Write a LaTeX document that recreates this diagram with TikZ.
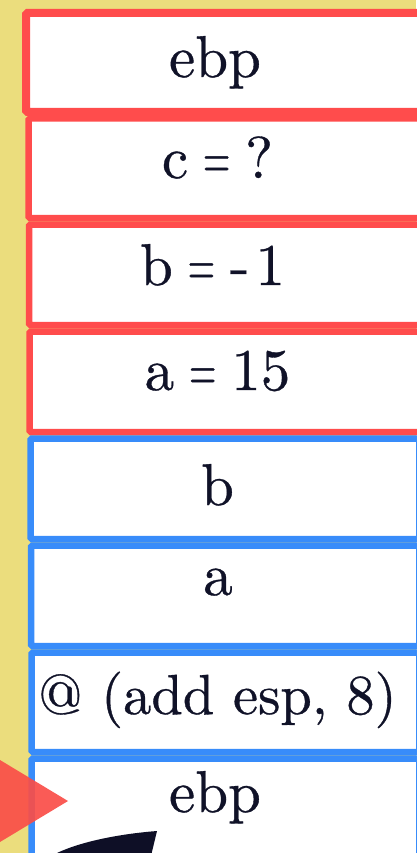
\documentclass[tikz,border=0pt]{standalone}
\usepackage{fontspec}
\setmainfont{lmroman10-regular.otf}[FakeBold=0.6]
\definecolor{bgy}{RGB}{235,221,125}
\definecolor{bred}{RGB}{255,76,76}
\definecolor{bblue}{RGB}{56,140,250}
\definecolor{ink}{RGB}{16,18,40}
\definecolor{tri}{RGB}{250,78,72}
\definecolor{darkshape}{RGB}{14,15,38}
\newcommand{\eqsign}{\hspace{0.25em}\scalebox{0.6}[1]{=}\hspace{0.25em}}
\begin{document}
\begin{tikzpicture}[x=1pt,y=-1pt,
  cell/.style={draw, fill=white, rounded corners=1.5pt, inner sep=0pt, anchor=north west},
  redcell/.style={cell, draw=bred, line width=6.5pt},
  bluecell/.style={cell, draw=bblue, line width=6.5pt},
  lbl/.style={anchor=base, inner sep=0pt, text=ink, font=\fontsize{59}{62}\selectfont}]
\fill[bgy] (0,0) rectangle (416,853);
\useasboundingbox (0,0) rectangle (416,853);
% red frames
\node[redcell, line width=8pt, minimum width=414pt, minimum height=99pt] (f1) at (22,9) {};
\node[redcell, minimum width=411.5pt, minimum height=99.5pt] (f2) at (25.25,115.25) {};
\node[redcell, minimum width=411pt, minimum height=100.5pt] (f3) at (25.75,221.25) {};
\node[redcell, minimum width=410.5pt, minimum height=100.5pt] (f4) at (26.25,328.25) {};
% blue frames
\node[bluecell, minimum width=388.75pt, minimum height=100.5pt] (f5) at (27.25,435.25) {};
\node[bluecell, minimum width=388.25pt, minimum height=100.5pt] (f6) at (27.75,542.25) {};
\node[bluecell, minimum width=387.75pt, minimum height=99.5pt] (f7) at (28.25,649.25) {};
\node[bluecell, minimum width=387.75pt, minimum height=101.5pt] (f8) at (28.25,755.25) {};
% labels
\node[lbl] (t1) at (215,77) {ebp};
\node[lbl] (t2) at (217.5,178) {c\eqsign?};
\node[lbl] (t3) at (212.5,285) {b\eqsign-\hspace{0.1em}1};
\node[lbl] (t4) at (217.5,390) {a\eqsign15};
\node[lbl] (t5) at (217.5,505) {b};
\node[lbl] (t6) at (218,595) {a};
\node[lbl, font=\fontsize{56.5}{60}\selectfont] (t7) at (217.5,714) {@ (add esp, 8)};
\node[lbl] (t8) at (215,812) {ebp};
% pointer triangle
\fill[tri, opacity=0.92] (-5,757) -- (68,801) -- (-5,845) -- cycle;
% dark curved shape at bottom
\fill[darkshape] (52,860) -- (57,853) .. controls (80,842) and (118,834) .. (157,831) -- (150,860) -- cycle;
\end{tikzpicture}
\end{document}
